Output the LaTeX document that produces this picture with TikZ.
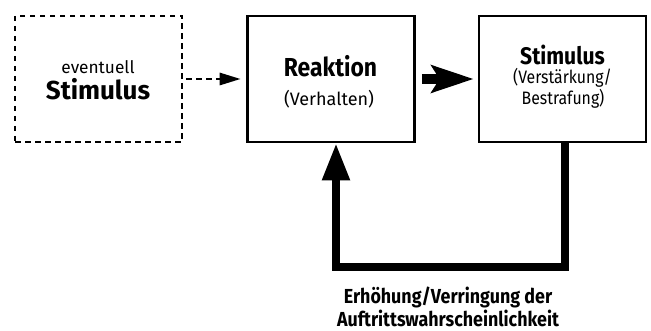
\documentclass[tikz,border=0pt]{standalone}
\usepackage{fontspec}
\setmainfont{Fira Sans}
\newfontfamily\schmal{Fira Sans}[FakeStretch=0.88]
\usetikzlibrary{positioning, arrows.meta}

\tikzset{
  box/.style={draw, line width=2.6pt, minimum width=167pt, minimum height=126pt, inner sep=0pt},
  dashbox/.style={box, dash pattern=on 5.5pt off 4.5pt},
  txt/.style={anchor=base, inner sep=0pt},
}

\begin{document}
\begin{tikzpicture}[x=1pt, y=-1pt]
                  \useasboundingbox (0,0) rectangle (651,331);

                  \node[dashbox] (vorher) at (98.5, 79) {};
                  \node[box] (reaktion) at (331, 79) {};
                  \node[box] (folge) at (562.5, 79) {};

                  \node[txt, font=\fontsize{17.3}{20}\selectfont] (ev) at (98, 73.3) {eventuell};
                  \node[txt, font=\fontsize{26}{30}\selectfont\bfseries] (st1) at (98, 100) {Stimulus};
                  \node[txt, font=\fontsize{26}{30}\selectfont\bfseries\schmal] (re) at (330.5, 76.7) {Reaktion};
                  \node[txt, font=\fontsize{18}{20}\selectfont] (ve) at (329, 106) {(Verhalten)};
                  \node[txt, font=\fontsize{24}{30}\selectfont\bfseries\schmal] (st2) at (562.5, 65) {Stimulus};
                  \node[txt, font=\fontsize{18}{20}\selectfont\schmal] (vs) at (562.5, 83.3) {(Verstärkung/};
                  \node[txt, font=\fontsize{18}{20}\selectfont\schmal] (bs) at (563, 105) {Bestrafung)};

                  \draw[line width=2.8pt, dash pattern=on 5.5pt off 4.5pt, -{Triangle[length=21pt, width=12pt]}] ([xshift=3pt]vorher.east) -- ([xshift=-5.5pt]reaktion.west);
                  \draw[line width=10pt, -{Stealth[length=42pt, width=27pt, inset=8pt]}] ([xshift=6pt]reaktion.east) -- ([xshift=-4pt]folge.west);

                  \draw[line width=8pt, line join=miter, -{Triangle[length=37pt, width=26pt]}] ([xshift=2.5pt]folge.south) -- ++(0, 124) -| ([xshift=5pt]reaktion.south);

                  \node[txt, font=\fontsize{20.3}{22}\selectfont\bfseries\schmal] (w1) at (448, 303.3) {Erhöhung/Verringung der};
                  \node[txt, font=\fontsize{20.3}{22}\selectfont\bfseries\schmal] (w2) at (448, 326.7) {Auftrittswahrscheinlichkeit};
\end{tikzpicture}
\end{document}
